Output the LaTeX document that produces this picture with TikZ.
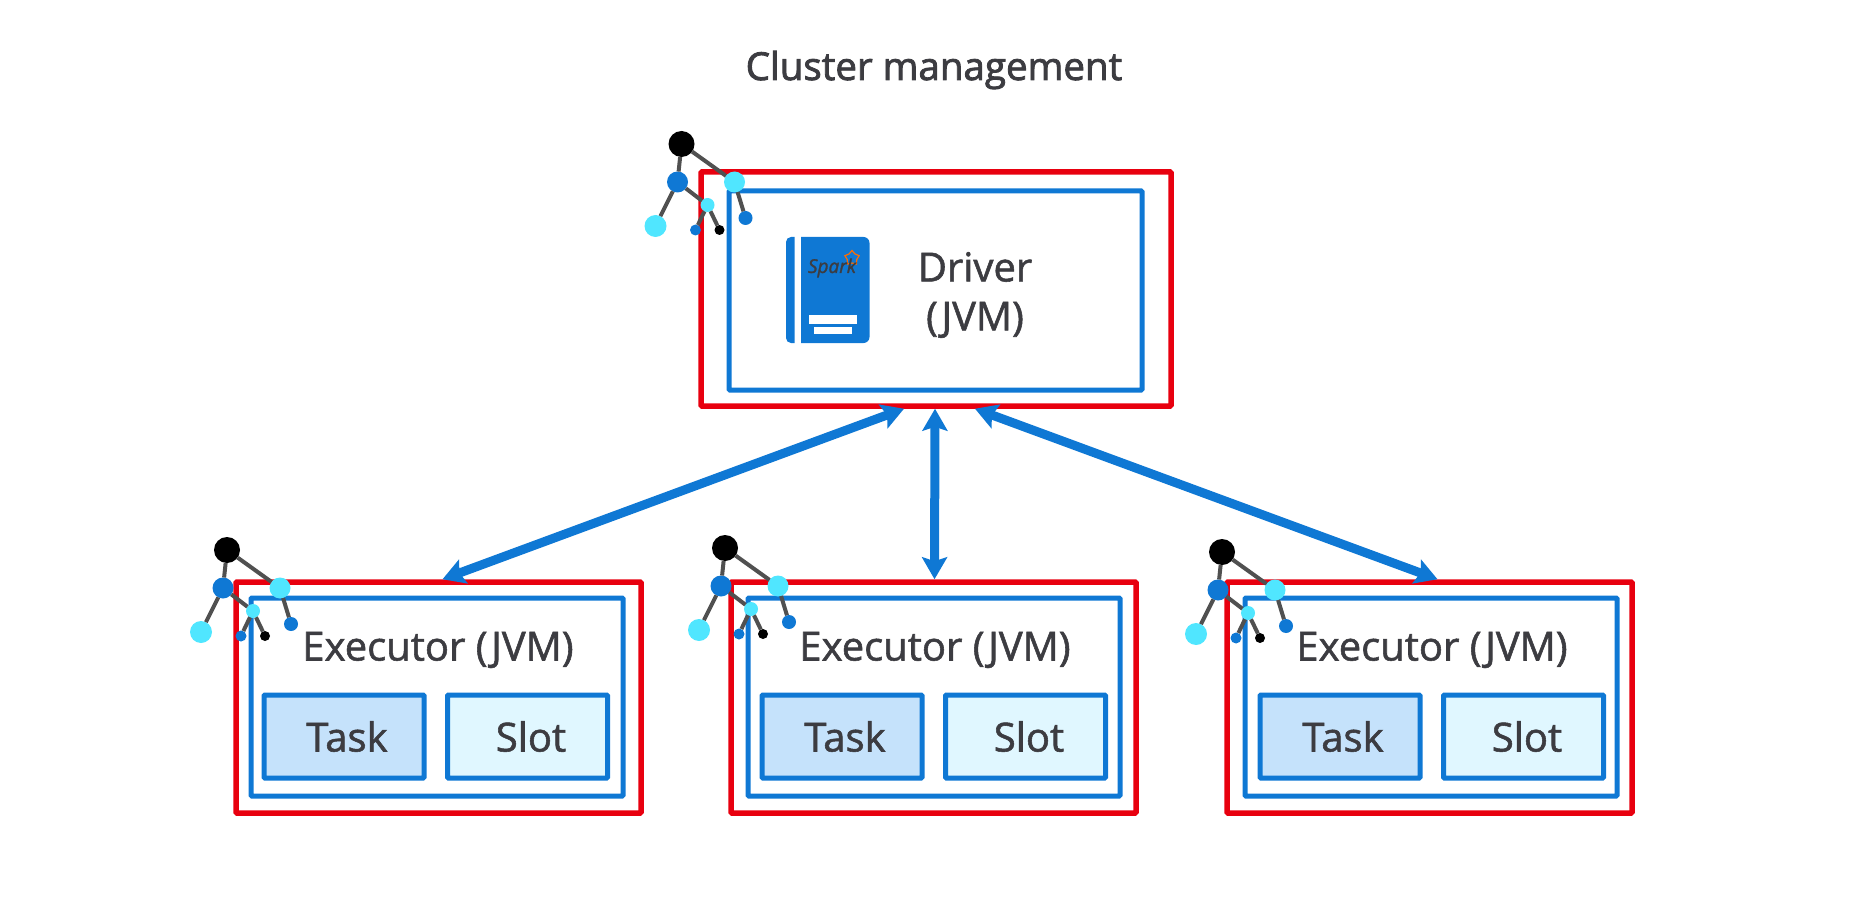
\documentclass[tikz,border=0pt]{standalone}
\usepackage{fontspec}
\setmainfont{Open Sans}[FakeBold=1.4]
\newfontfamily\titlefont[FakeBold=2.2]{Open Sans}
\usetikzlibrary{arrows.meta,shapes.geometric}
\definecolor{azure}{HTML}{0F78D4}
\definecolor{redline}{HTML}{E8000F}
\definecolor{cyanleaf}{HTML}{50E6FF}
\definecolor{labelgray}{HTML}{3C3C41}
\definecolor{taskfill}{HTML}{C5E2FB}
\definecolor{slotfill}{HTML}{E0F7FF}
\definecolor{branch}{HTML}{505050}
\tikzset{
  redbox/.style={draw=redline, line width=5.5pt, rounded corners=1pt, inner sep=0pt},
  bluebox/.style={draw=azure, line width=5pt, rounded corners=1pt, inner sep=0pt},
  inbox/.style={bluebox, minimum width=160pt, minimum height=83pt},
  lbl/.style={text=labelgray, font=\fontsize{40}{49}\selectfont, align=center},
  leaf/.style={circle, inner sep=0pt, outer sep=0pt},
  twig/.style={draw=branch, line width=4pt},
  link/.style={{Stealth[length=22pt,width=25pt,inset=4pt]}-{Stealth[length=22pt,width=25pt,inset=4pt]}, draw=azure, line width=9pt}
}
\begin{document}
\begin{tikzpicture}[x=1pt, y=-1pt]
  \useasboundingbox (0,0) rectangle (1865,901);

  % Title
  \node[text=labelgray, font=\titlefont\fontsize{38.5}{44}\selectfont] (title) at (934,70) {Cluster management};

  % Driver
  \node[redbox, minimum width=470pt, minimum height=234pt] (driver) at (936,289) {};
  \node[bluebox, minimum width=413pt, minimum height=199pt] (driverjvm) at (935.5,290.5) {};
  \node[lbl] (drivertext) at (975,295) {Driver\\(JVM)};

  % Spark book
  \fill[azure] (794.5,237) [rounded corners=5pt] -- (786,237) -- (786,343) [sharp corners] -- (794.5,343) -- cycle;
  \fill[azure] (801,237) [rounded corners=6pt] -- (869.5,237) -- (869.5,343) [sharp corners] -- (801,343) -- cycle;
  \fill[white] (809,315) rectangle (857,324);
  \fill[white] (814,327) rectangle (852,334);
  \node[star, star points=5, draw=orange!85!red, line width=1.2pt, inner sep=0pt, minimum size=15pt] (sparkstar) at (852,258) {};
  \node[text=labelgray, font=\fontsize{19}{19}\selectfont\itshape] (sparktext) at (832,268) {Spark};

  % Executors
  \foreach \e/\rx/\bx/\tx in {a/0/0/0, b/495/497/498, c/991/994/996} {
    \node[redbox, minimum width=405pt, minimum height=231pt] (\e red) at (438.5+\rx,697.5) {};
    \node[bluebox, minimum width=372pt, minimum height=198pt] (\e jvm) at (437+\bx,697) {};
    \node[lbl] (\e text) at (438+\bx,650) {Executor (JVM)};
    \node[inbox, fill=taskfill, lbl] (\e task) at (344+\tx,736.5) {\hspace*{6pt}Task};
    \node[inbox, fill=slotfill, lbl] (\e slot) at (527.5+\tx,736.5) {\hspace*{7pt}Slot};
  }

  % Connections from driver to executors
  \draw[link] ([xshift=-32pt]driver.south) -- ([xshift=4pt]ared.north);
  \draw[link] ([xshift=-1pt]driver.south) -- ([xshift=1pt]bred.north);
  \draw[link] ([xshift=39pt]driver.south) -- ([xshift=8pt]cred.north);

  % Trees
  \foreach \t/\dx/\dy in {d/454.5/-406, a/0/0, b/498/-2, c/995/2} {
    \begin{scope}[shift={(\dx,\dy)}]
      \node[leaf, fill=black, minimum size=26pt] (\t root) at (227,550) {};
      \node[leaf, fill=azure, minimum size=21pt] (\t left) at (223,588) {};
      \node[leaf, fill=cyanleaf, minimum size=21pt] (\t right) at (280,588) {};
      \node[leaf, fill=cyanleaf, minimum size=22pt] (\t big) at (201,632) {};
      \node[leaf, fill=cyanleaf, minimum size=14pt] (\t mid) at (253,611) {};
      \node[leaf, fill=azure, minimum size=11pt] (\t low) at (241,636) {};
      \node[leaf, fill=black, minimum size=10pt] (\t dot) at (265,636) {};
      \node[leaf, fill=azure, minimum size=14pt] (\t tip) at (291,624) {};
      \draw[twig] (\t root) -- (\t left);
      \draw[twig] (\t root) -- (\t right);
      \draw[twig] (\t left) -- (\t big);
      \draw[twig] (\t left) -- (\t mid);
      \draw[twig] (\t mid) -- (\t low);
      \draw[twig] (\t mid) -- (\t dot);
      \draw[twig] (\t right) -- (\t tip);
    \end{scope}
  }
\end{tikzpicture}
\end{document}
